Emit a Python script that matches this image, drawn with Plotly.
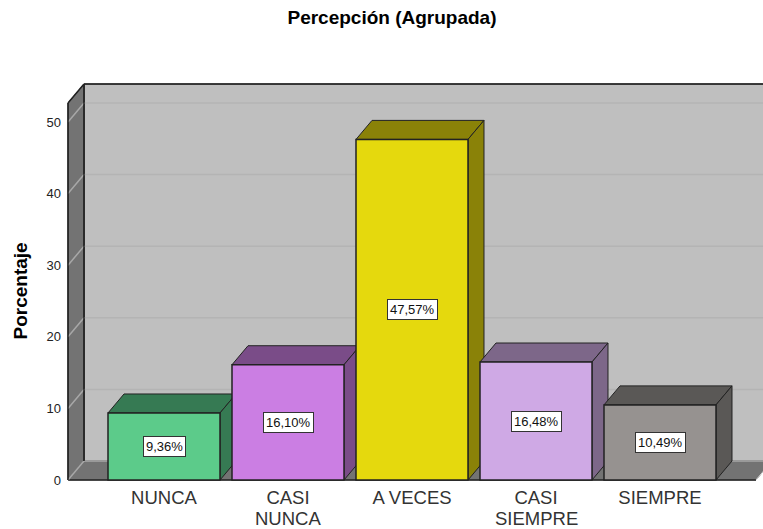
import plotly.graph_objects as go

category_line1 = ["NUNCA", "CASI", "A VECES", "CASI", "SIEMPRE"]
category_line2 = ["", "NUNCA", "", "SIEMPRE", ""]
values = [9.36, 16.10, 47.57, 16.48, 10.49]
value_labels = ["9,36%", "16,10%", "47,57%", "16,48%", "10,49%"]
front_colors = ["#5CCB8A", "#CB7EE3", "#E5D90D", "#CFA9E5", "#969290"]
shade_colors = ["#367A53", "#7A4C88", "#8A8208", "#7D6789", "#5A5856"]
y_ticks = [0, 10, 20, 30, 40, 50]

BAR_W = 112 / 124
DX = 16 / 124
DY = 19 / 7.16
X0, X1 = -96 / 124, 592 / 124
Y_TOP = 377 / 7.16
EDGE = "#222222"
LABEL_FONT = dict(family="Liberation Sans", size=18.5, color="#333333")
positions = list(range(len(values)))


def poly(pts, fill, line=EDGE, width=1.0):
    path = "M " + " L ".join(f"{x:.4f} {y:.4f}" for x, y in pts) + " Z"
    return dict(type="path", path=path, xref="x", yref="y", fillcolor=fill,
                line=dict(color=line, width=width), layer="below")


def seg(x0, y0, x1, y1, color, width=1.5):
    return dict(type="line", x0=x0, y0=y0, x1=x1, y1=y1, xref="x", yref="y",
                line=dict(color=color, width=width), layer="below")


shapes = [
    poly([(X0 + DX, DY), (X1 + DX, DY), (X1 + DX, Y_TOP + DY), (X0 + DX, Y_TOP + DY)], "#BFBFBF"),
    poly([(X0, 0), (X0 + DX, DY), (X0 + DX, Y_TOP + DY), (X0, Y_TOP)], "#737373"),
    poly([(X0, 0), (X1, 0), (X1 + DX, DY), (X0 + DX, DY)], "#737373", line="#737373"),
    seg(X0, 0, X1, 0, EDGE),
    seg(X1, 0, X1 + DX, DY, "#D8D8D8", 1),
]
for t in y_ticks:
    shapes.append(seg(X0, t, X0 + DX, t + DY, "#A8A8A8"))
    if t > 0:
        shapes.append(seg(X0 + DX, t + DY, X1 + DX, t + DY, "#B4B4B4"))
shapes.append(seg(X0 + DX, DY, X1 + DX, DY, "#A8A8A8"))
shapes.append(seg(X0 + DX, DY, X0 + DX, Y_TOP + DY, EDGE))
shapes.append(seg(X0, 0, X0, Y_TOP, EDGE))
shapes.append(seg(X0, Y_TOP, X0 + DX, Y_TOP + DY, EDGE))
shapes.append(seg(X0 + DX, Y_TOP + DY, X1 + DX, Y_TOP + DY, EDGE))

for p, v, c in zip(positions, values, shade_colors):
    l, r = p - BAR_W / 2, p + BAR_W / 2
    shapes.append(poly([(l, v), (r, v), (r + DX, v + DY), (l + DX, v + DY)], c))
    shapes.append(poly([(r, 0), (r + DX, DY), (r + DX, v + DY), (r, v)], c))

fig = go.Figure(go.Bar(
    x=positions, y=values, width=BAR_W,
    marker=dict(color=front_colors, line=dict(color=EDGE, width=1.5)),
    hoverinfo="skip", showlegend=False,
))

for p, v, t in zip(positions, values, value_labels):
    fig.add_annotation(x=p, y=v / 2, text=t, showarrow=False, bgcolor="white",
                       bordercolor="#333333", borderwidth=1, borderpad=2,
                       font=dict(family="Liberation Sans", size=13, color="#111111"))

for p, t in zip(positions, category_line2):
    if t:
        fig.add_annotation(x=p, y=0, yref="y", text=t, showarrow=False, yanchor="middle",
                           yshift=-38, font=LABEL_FONT)

fig.add_annotation(xref="paper", yref="paper", x=0, y=(484 - 291) / 404, xshift=-57,
                   text="<b>Porcentaje</b>", textangle=-90, showarrow=False,
                   font=dict(family="Liberation Sans", size=19, color="#000000"))

fig.update_layout(
    width=763, height=529, autosize=False, showlegend=False,
    paper_bgcolor="white", plot_bgcolor="white",
    margin=dict(l=64, r=0, t=80, b=45),
    shapes=shapes,
    title=dict(text="<b>Percepción (Agrupada)</b>", x=392 / 763, xanchor="center",
               y=1 - 17 / 529, yanchor="middle",
               font=dict(family="Liberation Sans", size=19, color="#000000")),
    xaxis=dict(range=[-100 / 124, 599 / 124], tickvals=positions, ticktext=category_line1,
               showgrid=False, zeroline=False, showline=False, ticks="",
               ticklabelstandoff=0, tickfont=LABEL_FONT),
    yaxis=dict(range=[-4 / 7.16, 400 / 7.16], tickvals=y_ticks, ticks="",
               showgrid=False, zeroline=False, showline=False,
               ticklabelstandoff=2,
               tickfont=dict(family="Liberation Sans", size=13, color="#222222")),
)

fig.write_html("out.html", post_script="document.body.style.margin='0';",
               config={"displayModeBar": False})
